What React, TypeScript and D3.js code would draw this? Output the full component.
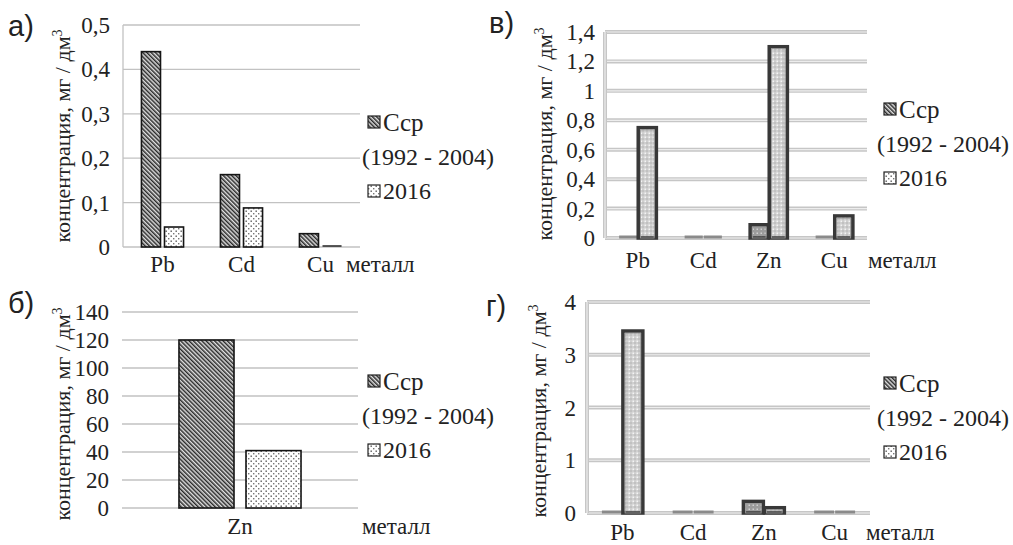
import React from "react";
import { scaleLinear, scaleBand } from "d3";

// panel а)
const metalsA = ["Pb", "Cd", "Cu"];
const avgA = [0.44, 0.163, 0.03];
const cur2016A = [0.045, 0.088, 0.001];
const ticksA = [0, 0.1, 0.2, 0.3, 0.4, 0.5];

// panel б)
const metalsB = ["Zn"];
const avgB = [120];
const cur2016B = [41];
const ticksB = [0, 20, 40, 60, 80, 100, 120, 140];

// panel в)
const metalsV = ["Pb", "Cd", "Zn", "Cu"];
const avgV = [0, 0, 0.09, 0];
const cur2016V = [0.75, 0, 1.3, 0.15];
const ticksV = [0, 0.2, 0.4, 0.6, 0.8, 1, 1.2, 1.4];

// panel г)
const metalsG = ["Pb", "Cd", "Zn", "Cu"];
const avgG = [0, 0, 0.22, 0];
const cur2016G = [3.45, 0, 0.1, 0];
const ticksG = [0, 1, 2, 3, 4];

const legendNames = ["Сср", "(1992 - 2004)", "2016"];
const yTitle = "концентрация, мг / дм";
const xTitle = "металл";

const SERIF = "Liberation Serif";
const SANS = "Liberation Sans";

const fmt = (v) => String(v).replace(".", ",");

const Panel = ({
  label, labelX, labelY,
  cats, avg, cur, ticks,
  left, right, top, bottom,
  pi, po, heavy, axisLine,
  tickX, titleX, titleY, catY, unitX,
  legX, legY, parenX,
}) => {
  const yMax = ticks[ticks.length - 1];
  const y = scaleLinear().domain([0, yMax]).range([bottom, top]);
  const xb = scaleBand().domain(cats).range([left, right]);
  const xs = scaleBand().domain(["avg", "cur"]).range([0, xb.bandwidth()])
    .paddingInner(pi).paddingOuter(po);

  const grid = ticks.map((t) => (
    <g key={t}>
      {heavy ? (
        <>
          <line x1={left} x2={right} y1={y(t)} y2={y(t)} stroke="#c6c6c6" strokeWidth={4} />
          <line x1={left} x2={right} y1={y(t)} y2={y(t)} stroke="#ededed" strokeWidth={1.2} />
        </>
      ) : (
        <line x1={left} x2={right} y1={y(t)} y2={y(t)} stroke="#c2c2c2" strokeWidth={1.3} />
      )}
      <text x={tickX} y={y(t)} dy="0.35em" textAnchor="end" fontSize={23} fontFamily={SERIF} fill="#222">
        {fmt(t)}
      </text>
    </g>
  ));

  const bars = [];
  cats.forEach((c, i) => {
    [["avg", avg[i]], ["cur", cur[i]]].forEach(([k, v]) => {
      const bx = xb(c) + xs(k);
      const w = xs.bandwidth();
      const by = y(v);
      const h = y(0) - by;
      if (h < 2) {
        // near-zero bar: only its outline shows on the baseline
        bars.push(
          <line key={c + k} x1={bx} x2={bx + w} y1={y(0) - 1} y2={y(0) - 1}
            stroke={heavy ? "#8a8a8a" : "#222"} strokeWidth={heavy ? 3 : 1.5} />
        );
        return;
      }
      if (heavy) {
        bars.push(
          <g key={c + k}>
            <rect x={bx} y={by} width={w} height={h}
              fill={k === "avg" ? "url(#stipDark)" : "url(#stip)"} stroke="#383838" strokeWidth={3.5} />
            <rect x={bx + 2.2} y={by + 2.2} width={Math.max(0, w - 4.4)} height={Math.max(0, h - 2.2)}
              fill="none" stroke="#9a9a9a" strokeWidth={0.9} />
          </g>
        );
      } else {
        bars.push(
          <rect key={c + k} x={bx} y={by} width={w} height={h}
            fill={k === "avg" ? "url(#hatch)" : "url(#dots)"} stroke="#151515" strokeWidth={1.6} />
        );
      }
    });
  });

  const catLabels = cats.map((c) => (
    <text key={c} x={xb(c) + xb.bandwidth() / 2} y={catY} textAnchor="middle"
      fontSize={23} fontFamily={SERIF} fill="#222">{c}</text>
  ));

  return (
    <g>
      <text x={labelX} y={labelY} fontSize={29} fontFamily={SANS} fill="#222">{label}</text>
      {grid}
      {axisLine && (
        heavy ? (
          <>
            <line x1={left} x2={left} y1={top} y2={bottom} stroke="#c6c6c6" strokeWidth={4} />
            <line x1={left} x2={left} y1={top} y2={bottom} stroke="#ededed" strokeWidth={1.2} />
          </>
        ) : (
          <line x1={left} x2={left} y1={top} y2={bottom} stroke="#c2c2c2" strokeWidth={1.3} />
        )
      )}
      {bars}
      {catLabels}
      <text x={unitX} y={catY} fontSize={23} fontFamily={SERIF} fill="#222">{xTitle}</text>
      <text transform={`translate(${titleX},${titleY}) rotate(-90)`} textAnchor="middle"
        fontSize={22} fontFamily={SERIF} fill="#222">
        {yTitle}
        <tspan fontSize={14} dy={-8}>3</tspan>
      </text>
      {/* legend */}
      <rect x={legX} y={legY - 6} width={12} height={12} fill="url(#hatch)" stroke="#222" strokeWidth={1.2} />
      <text x={legX + 15} y={legY} dy="0.35em" fontSize={25} fontFamily={SERIF} fill="#222">{legendNames[0]}</text>
      <text x={parenX} y={legY + 35} dy="0.35em" fontSize={24} fontFamily={SERIF} fill="#222">{legendNames[1]}</text>
      <rect x={legX} y={legY + 69 - 6} width={12} height={12} fill="url(#dots)" stroke="#222" strokeWidth={1.2} />
      <text x={legX + 15} y={legY + 69} dy="0.35em" fontSize={24} fontFamily={SERIF} fill="#222">{legendNames[2]}</text>
    </g>
  );
};

export default function App() {
  return (
    <svg width={1013} height={545} viewBox="0 0 1013 545"
      style={{ position: "absolute", left: 0, top: 0, background: "#fff" }}>
      <defs>
        <pattern id="hatch" width={3} height={3} patternUnits="userSpaceOnUse" patternTransform="rotate(-45)">
          <rect width={3} height={3} fill="#e0e0e0" />
          <rect width={1.5} height={3} fill="#2a2a2a" />
        </pattern>
        <pattern id="dots" width={5} height={5} patternUnits="userSpaceOnUse">
          <rect width={5} height={5} fill="#fff" />
          <rect x={0.5} y={0.5} width={1.4} height={1.4} fill="#555" />
          <rect x={3} y={3} width={1.4} height={1.4} fill="#777" />
        </pattern>
        <pattern id="stip" width={4} height={4} patternUnits="userSpaceOnUse">
          <rect width={4} height={4} fill="#cfcfcf" />
          <rect x={0.5} y={0.5} width={1.5} height={1.5} fill="#f4f4f4" />
          <rect x={2.5} y={2.5} width={1} height={1} fill="#9a9a9a" />
        </pattern>
        <pattern id="stipDark" width={4} height={4} patternUnits="userSpaceOnUse">
          <rect width={4} height={4} fill="#9c9c9c" />
          <rect x={0.5} y={0.5} width={1.5} height={1.5} fill="#d0d0d0" />
        </pattern>
      </defs>

      <Panel label="а)" labelX={8} labelY={36}
        cats={metalsA} avg={avgA} cur={cur2016A} ticks={ticksA}
        left={123} right={360} top={25} bottom={247}
        pi={0.174} po={0.8} heavy={false} axisLine={true}
        tickX={110} titleX={70} titleY={136} catY={272} unitX={346}
        legX={368} legY={122} parenX={362} />

      <Panel label="б)" labelX={8} labelY={313}
        cats={metalsB} avg={avgB} cur={cur2016B} ticks={ticksB}
        left={122} right={358} top={312} bottom={508}
        pi={0.179} po={0.85} heavy={false} axisLine={false}
        tickX={109} titleX={70} titleY={414} catY={534} unitX={362}
        legX={368} legY={381} parenX={362} />

      <Panel label="в)" labelX={489} labelY={33}
        cats={metalsV} avg={avgV} cur={cur2016V} ticks={ticksV}
        left={605} right={867} top={32} bottom={238}
        pi={0.05} po={0.74} heavy={true} axisLine={true}
        tickX={595} titleX={552} titleY={134} catY={268} unitX={868}
        legX={884} legY={109} parenX={877} />

      <Panel label="г)" labelX={486} labelY={316}
        cats={metalsG} avg={avgG} cur={cur2016G} ticks={ticksG}
        left={587} right={870} top={302} bottom={513}
        pi={0.05} po={0.71} heavy={true} axisLine={true}
        tickX={576} titleX={546} titleY={411} catY={540} unitX={866}
        legX={884} legY={383} parenX={877} />
    </svg>
  );
}
